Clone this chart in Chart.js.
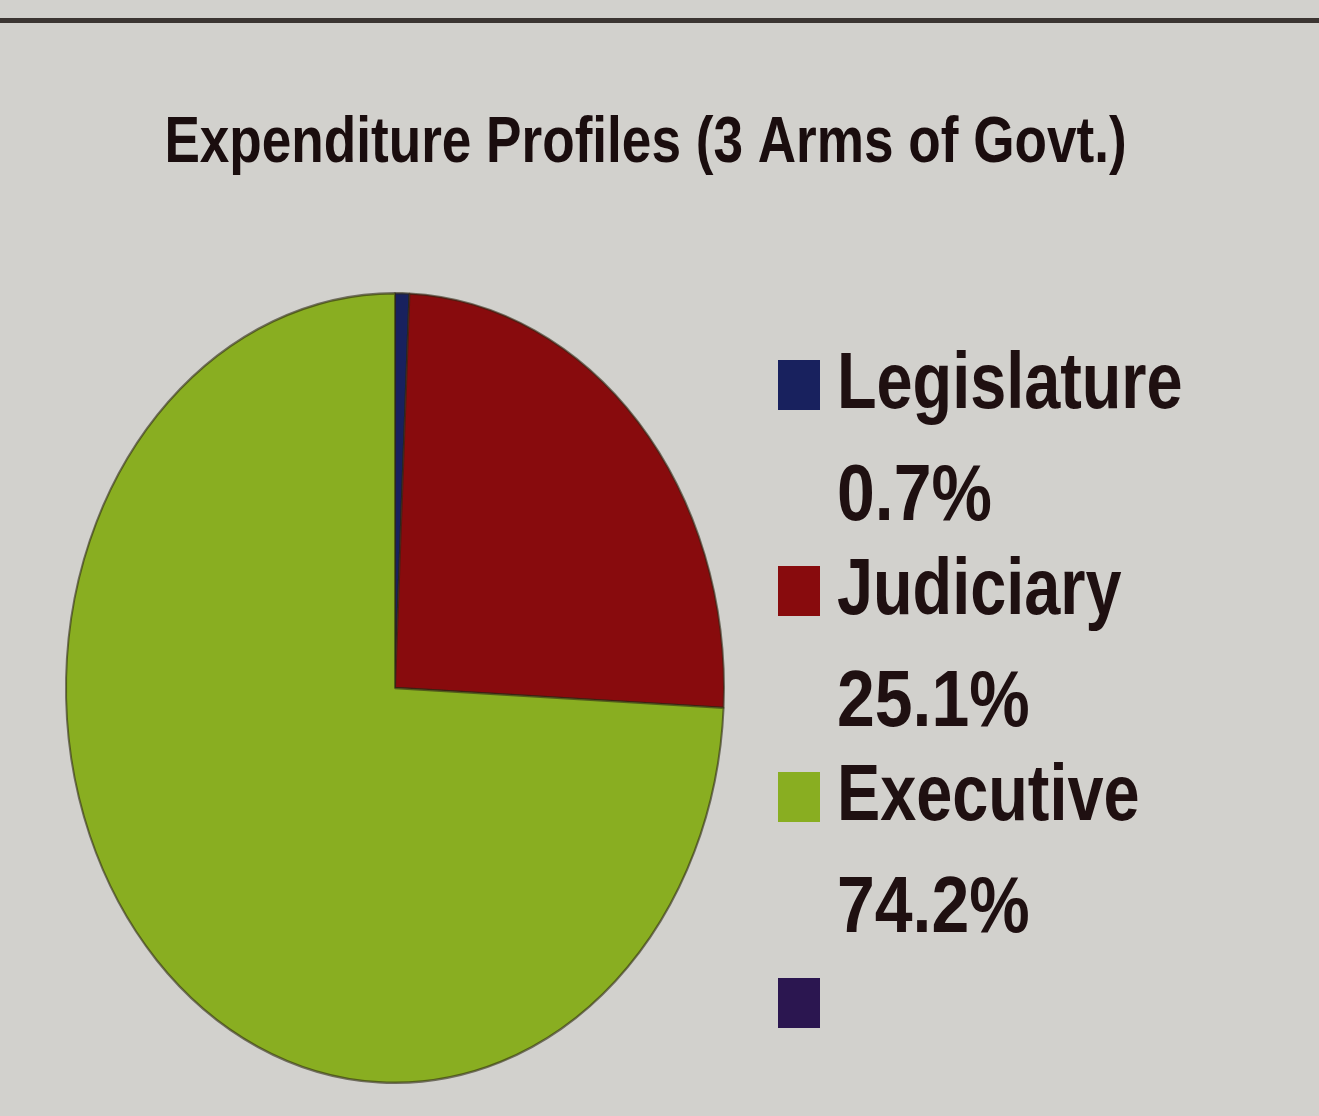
<!DOCTYPE html>
<html>
<head>
<meta charset="utf-8">
<title>Expenditure Profiles</title>
<script src="https://cdn.jsdelivr.net/npm/chart.js@4.4.1/dist/chart.umd.min.js"></script>
<style>
  html, body { margin: 0; padding: 0; }
  body {
    width: 1319px;
    height: 1116px;
    position: relative;
    overflow: hidden;
    background: #d2d1cd;
  }
  .rule {
    position: absolute;
    left: 0;
    top: 18px;
    width: 1319px;
    height: 5px;
    background: #3b3532;
  }
  #chartBox {
    position: absolute;
    left: 0;
    top: 0;
    width: 1319px;
    height: 1116px;
  }
  #legend {
    position: absolute;
    left: 778px;
    top: 329px;
    font-family: "Liberation Sans", Arial, sans-serif;
    font-weight: bold;
    font-size: 79px;
    line-height: 103px;
    color: #1f1011;
    white-space: nowrap;
  }
  #legend .line {
    position: relative;
    height: 103px;
    padding-left: 59px;
  }
  #legend .line.val { top: 9px; }
  /* the original legend font is a narrow one */
  #legend .txt {
    display: inline-block;
    transform: scaleX(0.82);
    transform-origin: 0 0;
  }
  #legend .val .txt { transform: scaleX(0.86); }
  #legend .swatch {
    position: absolute;
    left: 0;
    top: 31px;
    width: 42px;
    height: 50px;
  }
</style>
</head>
<body>
<div class="rule"></div>
<div id="chartBox"><canvas id="pie"></canvas></div>
<div id="legend"></div>

<script>
const title = 'Expenditure Profiles (3 Arms of Govt.)';
const categories = ['Legislature', 'Judiciary', 'Executive'];
const shares = [0.7, 25.1, 74.2];
const sliceColors = ['#18215e', '#880b0d', '#89ae21'];
// the original legend has a fourth entry with no label
const extraLegendColor = '#2b1650';

const titleFont = { family: '"Liberation Sans", Arial, sans-serif', size: 64, weight: 'bold' };
const titleNarrow = 0.83;

// where the pie goes (left of the legend), and how much the photo stretches it
const pieBox = { left: 65, right: 725, top: 358, bottom: 1018 };
const stretchY = 1.2;

const ellipsePie = {
  id: 'ellipsePie',
  afterLayout(chart) {
    const a = chart.chartArea;
    a.left = pieBox.left;
    a.right = pieBox.right;
    a.top = pieBox.top;
    a.bottom = pieBox.bottom;
    a.width = pieBox.right - pieBox.left;
    a.height = pieBox.bottom - pieBox.top;
  },
  beforeDraw(chart) {
    // squeeze the title horizontally (no narrow font installed)
    const t = chart.titleBlock;
    const cx = t.left + t.width / 2;
    const ctx = chart.ctx;
    ctx.save();
    ctx.translate(cx, 0);
    ctx.scale(titleNarrow, 1);
    ctx.translate(-cx, 0);
  },
  beforeDatasetsDraw(chart) {
    const ctx = chart.ctx;
    ctx.restore();
    const arc = chart.getDatasetMeta(0).data[0];
    ctx.save();
    ctx.translate(arc.x, arc.y);
    ctx.scale(1, stretchY);
    ctx.translate(-arc.x, -arc.y);
  },
  afterDatasetsDraw(chart) {
    chart.ctx.restore();
  }
};

new Chart(document.getElementById('pie'), {
  type: 'pie',
  data: {
    labels: categories,
    datasets: [{
      data: shares,
      backgroundColor: sliceColors,
      borderColor: 'rgba(45, 40, 20, 0.6)',
      borderWidth: 2,
      clip: false
    }]
  },
  options: {
    responsive: true,
    maintainAspectRatio: false,
    animation: false,
    layout: { padding: { right: 28 } },
    plugins: {
      legend: { display: false },
      tooltip: { enabled: false },
      title: {
        display: true,
        text: title,
        color: '#1a0d0e',
        font: titleFont,
        padding: { top: 106, bottom: 10 }
      }
    }
  },
  plugins: [ellipsePie]
});

// legend: name on one line, share on the next
const legend = document.getElementById('legend');
function addLine(text, color, cls) {
  const line = document.createElement('div');
  line.className = 'line' + (cls ? ' ' + cls : '');
  if (color) {
    const sw = document.createElement('span');
    sw.className = 'swatch';
    sw.style.background = color;
    line.appendChild(sw);
  }
  const txt = document.createElement('span');
  txt.className = 'txt';
  txt.textContent = text;
  line.appendChild(txt);
  legend.appendChild(line);
}
categories.forEach((name, i) => {
  addLine(name, sliceColors[i]);
  addLine(shares[i].toFixed(1) + '%', null, 'val');
});
addLine('', extraLegendColor);
</script>
</body>
</html>
